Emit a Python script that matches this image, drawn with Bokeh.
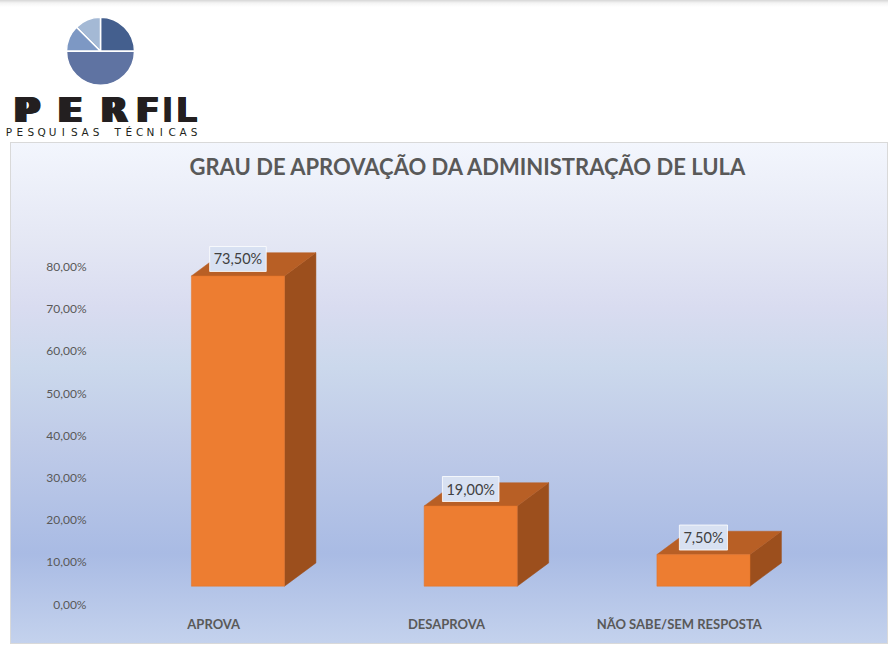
import numpy as np
from bokeh.plotting import figure
from bokeh.layouts import column
from bokeh.models import Range1d, FixedTicker
from bokeh.core.properties import value
from bokeh.embed import file_html
from bokeh.resources import INLINE

# ---------------- data ----------------
categories = ["APROVA", "DESAPROVA", "NÃO SABE/SEM RESPOSTA"]
values = [73.5, 19.0, 7.5]
value_labels = ["73,50%", "19,00%", "7,50%"]
y_ticks = [0, 10, 20, 30, 40, 50, 60, 70, 80]
y_tick_labels = ["0,00%", "10,00%", "20,00%", "30,00%", "40,00%",
                 "50,00%", "60,00%", "70,00%", "80,00%"]
title_text = "GRAU DE APROVAÇÃO DA ADMINISTRAÇÃO DE LULA"
logo_word = "PERFIL"
logo_sub = "PESQUISAS TÉCNICAS"
logo_shares = [0.25, 0.125, 0.125, 0.5]
logo_colors = ["#445f8e", "#a4b9d5", "#7d98c4", "#5f73a2"]

# ---------------- logo figure ----------------
LW, LH = 888, 142
lg = figure(width=LW, height=LH, x_range=Range1d(0, LW), y_range=Range1d(0, LH),
            output_backend="svg", toolbar_location=None, min_border=0,
            styles={"background": "linear-gradient(to bottom, #d6d6d6 0px, #f4f4f4 3px, #ffffff 7px)"})
lg.frame_align = False
lg.axis.visible = False
lg.grid.visible = False
lg.outline_line_color = None
lg.background_fill_alpha = 0
lg.border_fill_alpha = 0

ends = np.cumsum(logo_shares) * 2 * np.pi
starts = np.concatenate([[0], ends[:-1]])
lg.wedge(x=100, y=91.3, radius=34, radius_units="screen", start_angle=starts, end_angle=ends,
         fill_color=logo_colors, line_color="white", line_width=1.5)

# extended heavy logotype: each letter drawn with a small horizontal spread
letter_centers = [26.5, 69.5, 113.5, 147, 167, 186]
letter_spread = [5, 5, 4, 3, 0, 1]
for ch, cx, s in zip(logo_word, letter_centers, letter_spread):
    n = 1 if s == 0 else 5
    offs = np.linspace(-s / 2, s / 2, n)
    lg.text(x=cx + offs, y=[32.5] * n, text=[ch] * n,
            text_align="center", text_baseline="alphabetic",
            text_font=value("DejaVu Sans"), text_font_style="bold", text_font_size="34px",
            text_color="#231f20")
sub_x = np.linspace(8.5, 193.5, len(logo_sub))
lg.text(x=sub_x, y=[11] * len(logo_sub), text=list(logo_sub),
        text_align="center", text_baseline="alphabetic",
        text_font=value("DejaVu Sans"), text_font_size="10.5px", text_color="#231f20")

# ---------------- chart figure ----------------
d0 = 4.26      # depth offset of front face (data units)
dy = 5.52      # depth (vertical) of 3D box
dx = 0.135     # depth (horizontal)
off = 0.104    # front face horizontal offset from category position
w = 0.40       # bar width

grad = ("linear-gradient(to bottom, #f3f6fd 0%, #e4e7f4 20%, #d9dcf0 33%, #cbd8ec 45%, "
        "#bfcbe8 60%, #a9bbe4 82%, #c4d2ed 100%)")
p = figure(width=878, height=502, x_range=Range1d(-0.508, 2.899), y_range=Range1d(-1.02, 99.43),
           output_backend="svg", toolbar_location=None,
           min_border_left=85, min_border_right=0, min_border_top=42, min_border_bottom=36,
           margin=(0, 0, 0, 10),
           styles={"background": grad, "outline": "1px solid #d9d9d9", "outline-offset": "-1px"})
p.frame_align = False
p.background_fill_alpha = 0
p.border_fill_alpha = 0
p.outline_line_color = None
p.grid.visible = False

p.title.text = title_text
p.title.align = "left"
p.title.offset = 94
p.title.text_font = "Lato"
p.title.text_font_size = "22px"
p.title.text_font_style = "bold"
p.title.text_color = "#595959"

xs = np.arange(len(categories)) + off
v = np.array(values)
xl = xs - w / 2
xr = xs + w / 2
top = d0 + v

side_x = [[a, a + dx, a + dx, a] for a in xr]
side_y = [[d0, d0 + dy, t + dy, t] for t in top]
top_x = [[a, b, b + dx, a + dx] for a, b in zip(xl, xr)]
top_y = [[t, t, t + dy, t + dy] for t in top]

p.patches(side_x, side_y, fill_color="#9c4f1d", line_color="#9c4f1d", line_width=0.5)
p.patches(top_x, top_y, fill_color="#b85f25", line_color="#b85f25", line_width=0.5)
p.vbar(x=xs, width=w, bottom=d0, top=top, fill_color="#ed7d31", line_color="#e57428", line_width=0.5)

p.text(x=xs, y=top + 4.03, text=value_labels, text_align="center", text_baseline="middle",
       text_font=value("Lato"), text_font_size="14.5px", text_color="#404040",
       background_fill_color="#d8e1f2", border_line_color="#ffffff", border_line_alpha=0.8,
       padding=4)

p.xaxis.ticker = FixedTicker(ticks=list(range(len(categories))))
p.xaxis.major_label_overrides = {i: c for i, c in enumerate(categories)}
p.yaxis.ticker = FixedTicker(ticks=y_ticks)
p.yaxis.major_label_overrides = {t: l for t, l in zip(y_ticks, y_tick_labels)}
for ax in (p.xaxis, p.yaxis):
    ax.axis_line_color = None
    ax.major_tick_line_color = None
    ax.minor_tick_line_color = None
    ax.major_tick_out = 0
    ax.major_tick_in = 0
    ax.major_label_text_color = "#595959"
    ax.major_label_text_font = "Lato"
p.xaxis.major_label_text_font_style = "bold"
p.xaxis.major_label_text_font_size = "13px"
p.xaxis.major_label_standoff = 7
p.yaxis.major_label_text_font_size = "12px"
p.yaxis.major_label_standoff = 9

layout = column(lg, p, spacing=0)
open("out.html", "w").write(file_html(layout, INLINE))
